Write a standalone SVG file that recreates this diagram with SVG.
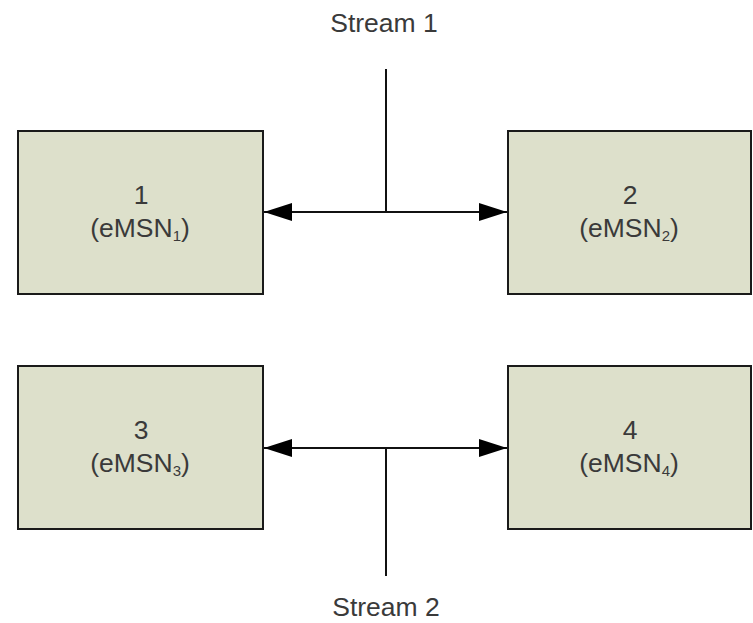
<svg xmlns="http://www.w3.org/2000/svg" width="753" height="623" viewBox="0 0 753 623">
<defs>
<marker id="ah" viewBox="0 0 28 18" refX="28" refY="9" markerWidth="28" markerHeight="18" markerUnits="userSpaceOnUse" orient="auto-start-reverse">
<path d="M0,0 L28,9 L0,18 Z" fill="#000"/>
</marker>
</defs>
<style>
.box{fill:#dde0cb;stroke:#1a1a1a;stroke-width:2}
.t{font-family:"Liberation Sans",Arial,sans-serif;font-size:26.5px;fill:#3a3a3a;text-anchor:middle}
.sub{font-size:15px}
.ln{stroke:#111;stroke-width:2;fill:none}
</style>
<g id="node1"><rect class="box" x="18" y="131" width="245" height="163"/><text class="t" x="141" y="204">1</text><text class="t" x="140" y="237">(eMSN<tspan class="sub" dy="4">1</tspan><tspan dy="-4">)</tspan></text></g>
<g id="node2"><rect class="box" x="508" y="131" width="243" height="163"/><text class="t" x="630" y="204">2</text><text class="t" x="629" y="237">(eMSN<tspan class="sub" dy="4">2</tspan><tspan dy="-4">)</tspan></text></g>
<g id="node3"><rect class="box" x="18" y="366" width="245" height="163"/><text class="t" x="141" y="439">3</text><text class="t" x="140" y="472">(eMSN<tspan class="sub" dy="4">3</tspan><tspan dy="-4">)</tspan></text></g>
<g id="node4"><rect class="box" x="508" y="366" width="243" height="163"/><text class="t" x="630" y="439">4</text><text class="t" x="629" y="472">(eMSN<tspan class="sub" dy="4">4</tspan><tspan dy="-4">)</tspan></text></g>
<g id="connectors">
<line class="ln" x1="264" y1="212" x2="507" y2="212" marker-start="url(#ah)" marker-end="url(#ah)"/>
<line class="ln" x1="386" y1="69" x2="386" y2="212"/>
<line class="ln" x1="264" y1="448" x2="507" y2="448" marker-start="url(#ah)" marker-end="url(#ah)"/>
<line class="ln" x1="386" y1="448" x2="386" y2="576"/>
</g>
<text class="t" x="384" y="32">Stream 1</text>
<text class="t" x="386" y="616">Stream 2</text>
</svg>
